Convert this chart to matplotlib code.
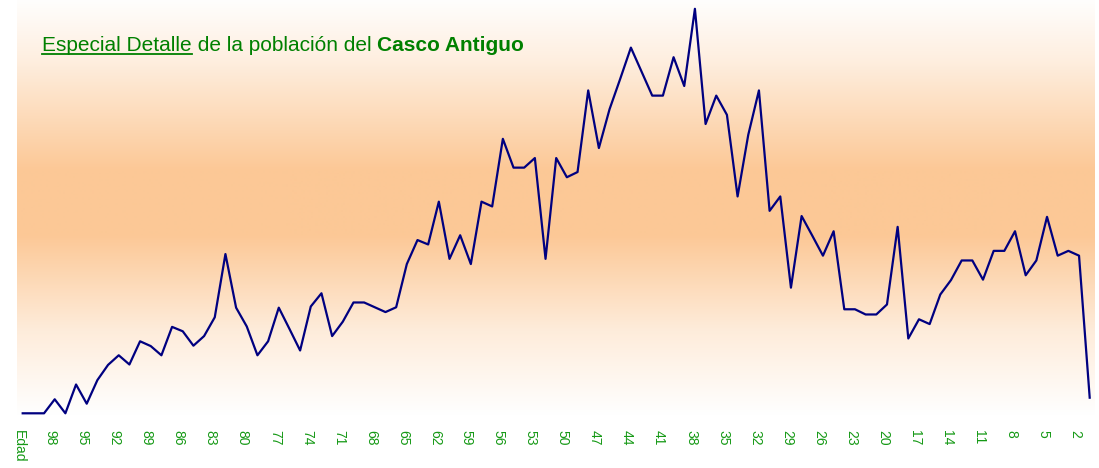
import numpy as np
import matplotlib
matplotlib.use("Agg")
import matplotlib.pyplot as plt
from matplotlib import transforms

plt.rcParams['font.family'] = ['Liberation Sans', 'DejaVu Sans']

# categories: first slot is the "Edad" header, then ages 100 down to 1
ages = ["Edad"] + [str(a) for a in range(100, 0, -1)]

# population per age
poblacion = [
    0, 0, 0, 3.5, 0, 7.2, 2.4, 8.3, 12.1, 14.5,
    12.2, 18.0, 16.8, 14.5, 21.6, 20.5, 16.9, 19.3, 24.0, 39.8,
    26.4, 21.7, 14.5, 18.0, 26.4, 21.1, 15.7, 26.7, 30.0, 19.3,
    22.9, 27.7, 27.7, 26.5, 25.3, 26.5, 37.3, 43.3, 42.2, 52.9,
    38.6, 44.5, 37.3, 52.9, 51.7, 68.6, 61.4, 61.4, 63.8, 38.6,
    63.8, 59.0, 60.3, 80.7, 66.3, 76.0, 83.6, 91.4, 85.4, 79.4,
    79.4, 89.0, 81.8, 101.1, 72.3, 79.4, 74.6, 54.2, 69.6, 80.7,
    50.6, 54.2, 31.4, 49.3, 44.4, 39.4, 45.5, 26.0, 26.0, 24.7,
    24.7, 27.2, 46.6, 18.7, 23.5, 22.3, 29.7, 33.3, 38.2, 38.2,
    33.4, 40.6, 40.6, 45.5, 34.5, 38.2, 49.1, 39.4, 40.6, 39.4,
    3.9,
]

# every third category gets a label
tick_labels = ["Edad", "98", "95", "92", "89", "86", "83", "80", "77", "74",
               "71", "68", "65", "62", "59", "56", "53", "50", "47", "44",
               "41", "38", "35", "32", "29", "26", "23", "20", "17", "14",
               "11", "8", "5", "2"]

W, H = 1099, 468
fig = plt.figure(figsize=(W / 100, H / 100), dpi=100)
fig.patch.set_facecolor("white")

# background band: white -> orange -> white
bg = fig.add_axes([0, 0, 1, 1])
bg.set_xlim(0, W)
bg.set_ylim(H, 0)
bg.axis("off")
rows = np.arange(0, 416)
t = np.interp(rows, [0, 60, 170, 235, 330, 415], [0.02, 0.3, 1.0, 1.0, 0.35, 0.0])
orange = np.array([252, 200, 150]) / 255.0
white = np.array([1.0, 1.0, 1.0])
grad = white[None, :] * (1 - t[:, None]) + orange[None, :] * t[:, None]
grad = np.repeat(grad[:, None, :], 2, axis=1)
bg.imshow(grad, extent=[17, 1095, 415, 0], aspect="auto", interpolation="bilinear")

# main chart
ax = fig.add_axes([22.7 / W, (H - 413.3) / H, (1089.7 - 22.7) / W, 413.3 / H])
ax.patch.set_alpha(0)
x = np.arange(len(ages))
ax.plot(x, poblacion, color="#000080", lw=1.6, clip_on=False)
ax.set_xlim(0, len(ages) - 1)
ax.set_ylim(0, 103.3)
for s in ax.spines.values():
    s.set_visible(False)
ax.set_yticks([])
tick_pos = [ages.index(lbl) for lbl in tick_labels]
ax.set_xticks(tick_pos)
ax.set_xticklabels(tick_labels, rotation=270, color="#159915", fontsize=10,
                   ha="center", va="top")
ax.tick_params(axis="x", length=0, pad=12)
shift = transforms.ScaledTranslation(-4 / 100, 0, fig.dpi_scale_trans)
for lab in ax.get_xticklabels():
    lab.set_transform(lab.get_transform() + shift)

# title with mixed styles
fig.canvas.draw()
renderer = fig.canvas.get_renderer()
x0 = 42 / W
ty = (H - 51) / H
parts = [("Especial Detalle", "normal", True),
         (" de la población del ", "normal", False),
         ("Casco Antiguo", "bold", False)]
xc = x0
for txt, weight, underline in parts:
    tt = fig.text(xc, ty, txt, color="green", fontsize=15, fontweight=weight,
                  ha="left", va="baseline")
    bb = tt.get_window_extent(renderer=renderer)
    if underline:
        uy = ty - 3 / H
        fig.add_artist(plt.Line2D([bb.x0 / W, bb.x1 / W], [uy, uy],
                                  color="green", lw=1.3))
    xc = bb.x1 / W

fig.savefig("out.png", dpi=100)
